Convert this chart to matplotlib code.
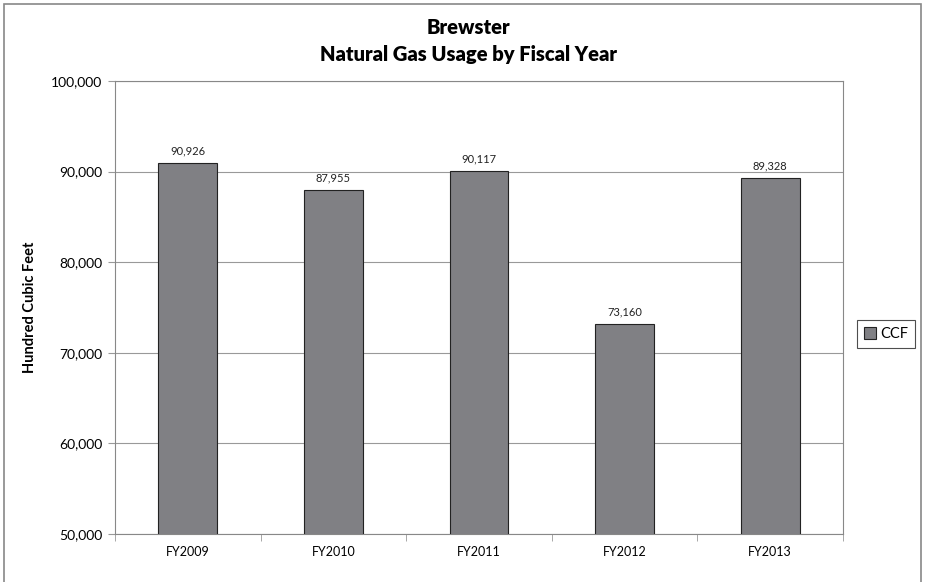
import matplotlib
matplotlib.use("Agg")
import matplotlib.pyplot as plt
from matplotlib.patches import Rectangle, Patch
import numpy as np

categories = ["FY2009", "FY2010", "FY2011", "FY2012", "FY2013"]
values = [90926, 87955, 90117, 73160, 89328]
series_name = "CCF"
yticks = [50000, 60000, 70000, 80000, 90000, 100000]

plt.rcParams['font.family'] = ['Lato', 'DejaVu Sans']

W, H = 925, 582
fig = plt.figure(figsize=(W/100, H/100), dpi=100)
ax = fig.add_axes([115/W, 1-534/H, (843-115)/W, (534-81)/H])

x = np.arange(len(categories))
bars = ax.bar(x, values, width=0.405, color="#808084", edgecolor="#222222", linewidth=0.8, zorder=3)
for xi, v in zip(x, values):
    ax.text(xi, v + 700, f"{v:,}", ha="center", va="bottom", fontsize=8, color="#222222")

ax.set_xlim(-0.5, len(categories) - 0.5)
ax.set_ylim(50000, 100000)
ax.set_yticks(yticks)
ax.set_yticklabels([f"{t:,}" for t in yticks], fontsize=10)
ax.set_xticks(x)
ax.set_xticklabels(categories, fontsize=9)
ax.set_xticks(np.arange(-0.5, len(categories)), minor=True)
ax.tick_params(axis="x", which="major", length=0, pad=9)
ax.tick_params(axis="x", which="minor", length=5, color="#999999", direction="out")
ax.tick_params(axis="y", length=5, color="#999999", direction="out", pad=4)
ax.grid(axis="y", color="#999999", linewidth=0.8, zorder=0)
for s in ax.spines.values():
    s.set_color("#888888")
    s.set_linewidth(0.8)
ax.set_ylabel("Hundred Cubic Feet", fontsize=10.5, fontweight="bold", labelpad=10)

fig.text(468/W, 1-27/H, "Brewster", ha="center", va="center", fontsize=14.5, fontweight="heavy")
fig.text(468/W, 1-55/H, "Natural Gas Usage by Fiscal Year", ha="center", va="center", fontsize=14.5, fontweight="heavy")

leg = fig.legend(handles=[Patch(facecolor="#808084", edgecolor="#222222", linewidth=0.8, label=series_name)],
                 loc="center", bbox_to_anchor=(886/W, 1-334/H), fontsize=10.5, frameon=True,
                 fancybox=False, handlelength=0.8, handleheight=0.8, handletextpad=0.3, borderpad=0.5)
leg.get_frame().set_edgecolor("#222222")
leg.get_frame().set_linewidth(0.8)

fig.patches.append(Rectangle((4/W, -0.01), (921-4)/W, 1-4/H+0.01, transform=fig.transFigure,
                             fill=False, edgecolor="#888888", linewidth=1.2))

fig.savefig("out.png", dpi=100)
